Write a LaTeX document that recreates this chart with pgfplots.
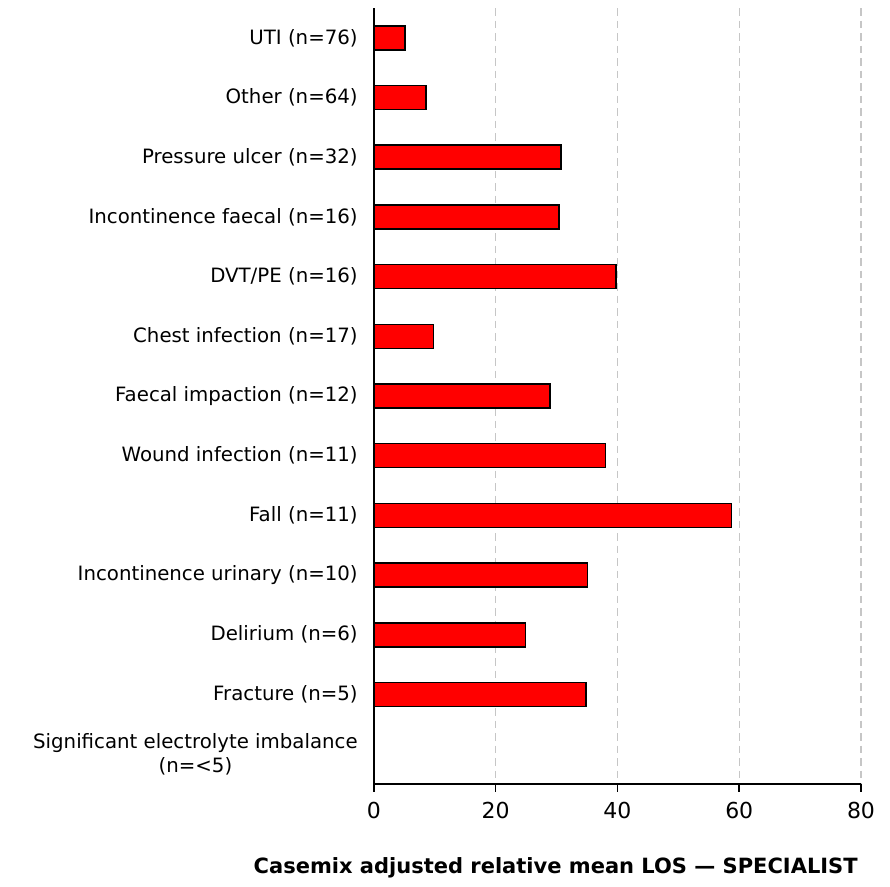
\documentclass[border=0pt]{standalone}
\usepackage{pgfplots}
\pgfplotsset{compat=1.18}
\usepackage{fontspec}
\setmainfont{DejaVu Sans}
\begin{document}
\begin{tikzpicture}
\begin{axis}[
  width=194.8pt, height=310.4pt, scale only axis,
  clip=false,
  xmin=0, xmax=80, xtick={0,20,40,60,80},
  ymin=-0.5, ymax=12.5, y dir=reverse,
  ytick={0,...,12},
  yticklabels={UTI (n=76),Other (n=64),Pressure ulcer (n=32),Incontinence faecal (n=16),DVT/PE (n=16),Chest infection (n=17),Faecal impaction (n=12),Wound infection (n=11),Fall (n=11),Incontinence urinary (n=10),Delirium (n=6),Fracture (n=5),{Significant electrolyte imbalance\\(n=<5)}},
  yticklabel style={align=center, font=\fontsize{7.9}{9.5}\selectfont},
  xticklabel style={font=\fontsize{8.8}{10}\selectfont, yshift=-0.8pt},
  /pgf/number format/assume math mode=true,
  axis x line=bottom, axis y line=left,
  axis line style={-, line width=0.6pt},
  y tick style={draw=none},
  x tick style={black, line width=0.6pt},
  tick align=outside, major tick length=3pt,
  xmajorgrids, grid style={densely dashed, gray!45, line width=0.5pt},
  xbar, bar width=9.6pt,
  xlabel={\textbf{Casemix adjusted relative mean LOS --- SPECIALIST}},
  xlabel style={at={(axis description cs:1,-0.083)}, anchor=north east, xshift=2.2pt, font=\fontsize{8.4}{10}\selectfont},
]
\addplot[fill=red, draw=black, line width=0.6pt] coordinates {
  (5.1,0) (8.55,1) (30.7,2) (30.4,3) (39.75,4) (9.75,5) (28.9,6)
  (38.0,7) (58.7,8) (35.1,9) (24.9,10) (34.8,11)
};
% white margins as in the original figure
\path (rel axis cs:0,0) ++(-149.6pt,-40.4pt);
\path (rel axis cs:1,1) ++(11.6pt,3.2pt);
\end{axis}
\end{tikzpicture}
\end{document}
